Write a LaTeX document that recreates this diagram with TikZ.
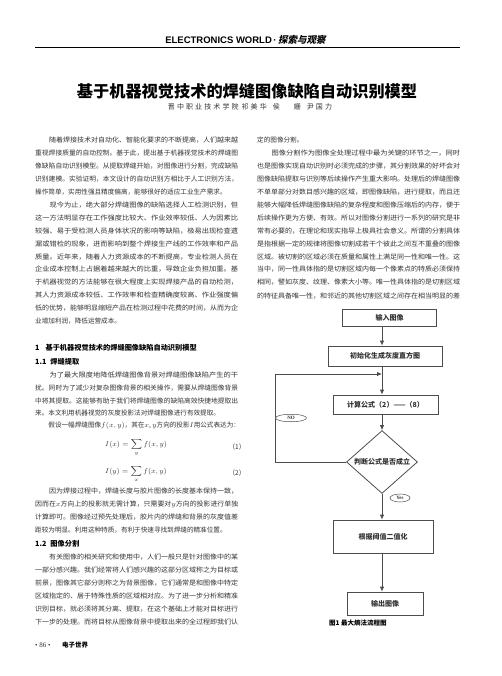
\documentclass[tikz,border=0pt]{standalone}
\usepackage{fontspec}
\usepackage{graphicx}
\usepackage{amsmath}
\usetikzlibrary{arrows.meta,calc,positioning,shapes.geometric}
\setmainfont{Liberation Serif}
\newfontfamily\cjk{Noto Sans CJK SC}
\newfontfamily\cjkslant[FakeSlant=0.2]{Noto Sans CJK SC}
\newfontfamily\cjkspaced[LetterSpace=30]{Noto Sans CJK SC}
\newfontfamily\headsans{Liberation Sans}
\definecolor{ink}{HTML}{333333}
\definecolor{frame}{HTML}{4d4d4d}
\newcommand{\bodysize}{\fontsize{6.6}{7.5}\selectfont}
\newcommand{\fullline}[1]{\resizebox{203pt}{\height}{#1}}
\tikzset{%
  arrow/.style={draw=frame,line width=0.8pt,-{Latex[length=5pt,width=4.5pt]}},
  textline/.style={anchor=west,inner sep=0,font=\cjk\bodysize,text=ink},
  heading/.style={anchor=west,inner sep=0,font=\cjk\bfseries\fontsize{7.2}{8}\selectfont,text=black},
  formula/.style={anchor=base west,inner sep=0,font=\fontsize{7}{8}\selectfont,text=ink},
  stepbox/.style={rectangle,draw=frame,line width=0.8pt,inner sep=0,font=\cjk\bfseries\fontsize{7}{8}\selectfont,text=ink},
  decision/.style={diamond,draw=frame,line width=0.8pt,inner sep=0,minimum width=71pt,minimum height=48pt,font=\cjk\bfseries\fontsize{7}{8}\selectfont,text=ink},
  tag/.style={ellipse,draw=frame,line width=0.5pt,fill=white,inner sep=0,font=\bfseries\fontsize{5}{5}\selectfont,text=ink},
}

\begin{document}
\begin{tikzpicture}[x=1pt,y=-1pt]
  \fill[white] (0,0) rectangle (502,676);
  \useasboundingbox (0,0) rectangle (502,676);

  \node[font=\headsans\bfseries\fontsize{9.5}{10}\selectfont] (header) at (245.5,40) {ELECTRONICS WORLD\,·\,{\cjkslant 探索与观察}};
  \draw[line width=0.8pt] (35,47) -- (460,47);
  \node[font=\cjk\bfseries\fontsize{16.2}{18}\selectfont] (title) at (247,91) {基于机器视觉技术的焊缝图像缺陷自动识别模型};
  \node[font=\cjkspaced\fontsize{7}{8}\selectfont,text=ink] (authors) at (250,107) {晋中职业技术学院\hspace{3pt}祁美华\hspace{6pt}侯\hspace{14pt}姗\hspace{6pt}尹国力};

  \node[textline] (left_1) at (35,140) {\fullline{\hspace*{2em}随着焊接技术对自动化、智能化要求的不断提高，人们越来越}};
  \node[textline] (left_2) at (35,153) {\fullline{重视焊接质量的自动控制。基于此，提出基于机器视觉技术的焊缝图}};
  \node[textline] (left_3) at (35,165.9) {\fullline{像缺陷自动识别模型。从提取焊缝开始，对图像进行分割，完成缺陷}};
  \node[textline] (left_4) at (35,178.9) {\fullline{识别建模。实验证明，本文设计的自动识别方相比于人工识别方法，}};
  \node[textline] (left_5) at (35,191.8) {操作简单，实用性强且精度偏高，能够很好的适应工业生产需求。};
  \node[textline] (left_6) at (35,204.8) {\fullline{\hspace*{2em}现今为止，绝大部分焊缝图像的缺陷选择人工检测识别，但}};
  \node[textline] (left_7) at (35,217.7) {\fullline{这一方法明显存在工作强度比较大、作业效率较低、人为因素比}};
  \node[textline] (left_8) at (35,230.7) {\fullline{较强、易于受检测人员身体状况的影响等缺陷，极易出现检查遗}};
  \node[textline] (left_9) at (35,243.6) {\fullline{漏或错检的现象，进而影响到整个焊接生产线的工作效率和产品}};
  \node[textline] (left_10) at (35,256.6) {\fullline{质量。近年来，随着人力资源成本的不断提高，专业检测人员在}};
  \node[textline] (left_11) at (35,269.5) {\fullline{企业成本控制上占据着越来越大的比重，导致企业负担加重。基}};
  \node[textline] (left_12) at (35,282.5) {\fullline{于机器视觉的方法能够在很大程度上实现焊接产品的自动检测，}};
  \node[textline] (left_13) at (35,295.4) {\fullline{其人力资源成本较低、工作效率和检查精确度较高、作业强度偏}};
  \node[textline] (left_14) at (35,308.4) {\fullline{低的优势，能够明显缩短产品在检测过程中花费的时间，从而为企}};
  \node[textline] (left_15) at (35,321.3) {业增加利润，降低运营成本。};

  \node[heading] (sec_1) at (35,348) {1\hspace{6pt}基于机器视觉技术的焊缝图像缺陷自动识别模型};
  \node[heading] (sec_11) at (35,362) {1.1\hspace{4pt}焊缝提取};
  \node[textline] (left_18) at (35,375) {\fullline{\hspace*{2em}为了最大限度地降低焊缝图像背景对焊缝图像缺陷产生的干}};
  \node[textline] (left_19) at (35,388) {\fullline{扰。同时为了减少对复杂图像背景的相关操作，需要从焊缝图像背景}};
  \node[textline] (left_20) at (35,400.5) {\fullline{中将其提取。这能够有助于我们将焊缝图像的缺陷高效快捷地提取出}};
  \node[textline] (left_21) at (35,413) {来。本文利用机器视觉的灰度投影法对焊缝图像进行有效提取。};
  \node[textline] (left_22) at (35,425.5) {\hspace*{2em}假设一幅焊缝图像$f(x,y)$，其在$x$, $y$方向的投影$I$用公式表达为：};

  \node[formula] (eq_1) at (105,446) {$I(x)=\displaystyle\sum_{y} f(x,y)$};
  \node[textline,anchor=center] (eqno_1) at (237,446.5) {（1）};
  \node[formula] (eq_2) at (105,473) {$I(y)=\displaystyle\sum_{x} f(x,y)$};
  \node[textline,anchor=center] (eqno_2) at (237,473) {（2）};

  \node[textline] (left_23) at (35,491) {\fullline{\hspace*{2em}因为焊接过程中，焊缝长度与胶片图像的长度基本保持一致，}};
  \node[textline] (left_24) at (35,504) {\fullline{因而在$x$方向上的投影就无需计算，只需要对$y$方向的投影进行单独}};
  \node[textline] (left_25) at (35,517) {\fullline{计算即可。图像经过预先处理后，胶片内的焊缝和背景的灰度值差}};
  \node[textline] (left_26) at (35,530) {距较为明显。利用这种特质，有利于快速寻找到焊缝的精准位置。};
  \node[heading] (sec_12) at (35,543.5) {1.2\hspace{4pt}图像分割};
  \node[textline] (left_28) at (35,557) {\fullline{\hspace*{2em}有关图像的相关研究和使用中，人们一般只是针对图像中的某}};
  \node[textline] (left_29) at (35,570) {\fullline{一部分感兴趣。我们经常将人们感兴趣的这部分区域称之为目标或}};
  \node[textline] (left_30) at (35,583) {\fullline{前景，图像其它部分则称之为背景图像，它们通常是和图像中特定}};
  \node[textline] (left_31) at (35,596) {\fullline{区域指定的、居于特殊性质的区域相对应。为了进一步分析和精准}};
  \node[textline] (left_32) at (35,609) {\fullline{识别目标，就必须将其分离、提取，在这个基础上才能对目标进行}};
  \node[textline] (left_33) at (35,622) {\fullline{下一步的处理。而将目标从图像背景中提取出来的全过程即我们认}};

  \node[anchor=west,inner sep=0,font=\fontsize{7}{8}\selectfont,text=ink] (page_no) at (35,645) {• 86 •};
  \node[anchor=west,inner sep=0,font=\cjk\bfseries\fontsize{6.5}{7}\selectfont] (journal) at (62,645) {电子世界};

  \node[textline] (right_1) at (257,140) {定的图像分割。};
  \node[textline] (right_2) at (257,153) {\fullline{\hspace*{2em}图像分割作为图像全处理过程中最为关键的环节之一，同时}};
  \node[textline] (right_3) at (257,165.9) {\fullline{也是图像实现自动识别时必须完成的步骤，其分割效果的好坏会对}};
  \node[textline] (right_4) at (257,178.9) {\fullline{图像缺陷提取与识别等后续操作产生重大影响。处理后的焊缝图像}};
  \node[textline] (right_5) at (257,191.8) {\fullline{不单单部分对数目感兴趣的区域，即图像缺陷，进行提取，而且还}};
  \node[textline] (right_6) at (257,204.8) {\fullline{能够大幅降低焊缝图像缺陷的复杂程度和图像压缩后的内存，便于}};
  \node[textline] (right_7) at (257,217.7) {\fullline{后续操作更为方便、有效。所以对图像分割进行一系列的研究是非}};
  \node[textline] (right_8) at (257,230.7) {\fullline{常有必要的，在理论和现实指导上极具社会意义。所谓的分割具体}};
  \node[textline] (right_9) at (257,243.6) {\fullline{是指根据一定的规律将图像切割成若干个彼此之间互不重叠的图像}};
  \node[textline] (right_10) at (257,256.6) {\fullline{区域。被切割的区域必须在质量和属性上满足同一性和唯一性。这}};
  \node[textline] (right_11) at (257,269.5) {\fullline{当中，同一性具体指的是切割区域内每一个像素点的特质必须保持}};
  \node[textline] (right_12) at (257,282.5) {\fullline{相同，譬如灰度、纹理、像素大小等。唯一性具体指的是切割区域}};
  \node[textline] (right_13) at (257,296) {\fullline{的特征具备唯一性，和邻近的其他切割区域之间存在相当明显的差}};

  \coordinate (trunk) at (382,0);
  \coordinate (loop_x) at (275.7,0);
  \coordinate (loop_in) at (382,374);

  \node[stepbox,minimum width=94pt,minimum height=17pt] (input) at (389.7,317.5) {输入图像};
  \node[stepbox,minimum width=114pt,minimum height=20pt] (init) at (385,356) {初始化生成灰度直方图};
  \node[stepbox,minimum width=105pt,minimum height=19pt] (calc) at (385.5,404.5) {计算公式（2）——（8）};
  \node[decision] (judge) at (382,462) {判断公式是否成立};
  \node[stepbox,minimum width=100pt,minimum height=33pt] (thresh) at (383,536.5) {根据阈值二值化};
  \node[stepbox,minimum width=76pt,minimum height=23pt] (output) at (385,603.5) {输出图像};

  \draw[arrow] (input.south -| trunk) -- (init.north -| trunk);
  \draw[arrow] (init.south -| trunk) -- (calc.north -| trunk);
  \draw[arrow] (calc.south -| trunk) -- (judge.north);
  \draw[arrow] (judge.south) -- (thresh.north -| trunk);
  \draw[arrow] (thresh.south -| trunk) -- (output.north -| trunk);
  \draw[arrow] (judge.west) -- (judge.west -| loop_x) |- (loop_in);

  \node[tag,minimum width=31pt,minimum height=7.5pt] (no_tag) at (291,418) {NO};
  \node[tag,minimum width=20pt,minimum height=8pt] (yes_tag) at (400,498) {Yes};

  \node[anchor=west,inner sep=0,font=\cjk\bfseries\fontsize{6.5}{7}\selectfont] (caption) at (329,623) {图1 最大熵法流程图};
\end{tikzpicture}
\end{document}
